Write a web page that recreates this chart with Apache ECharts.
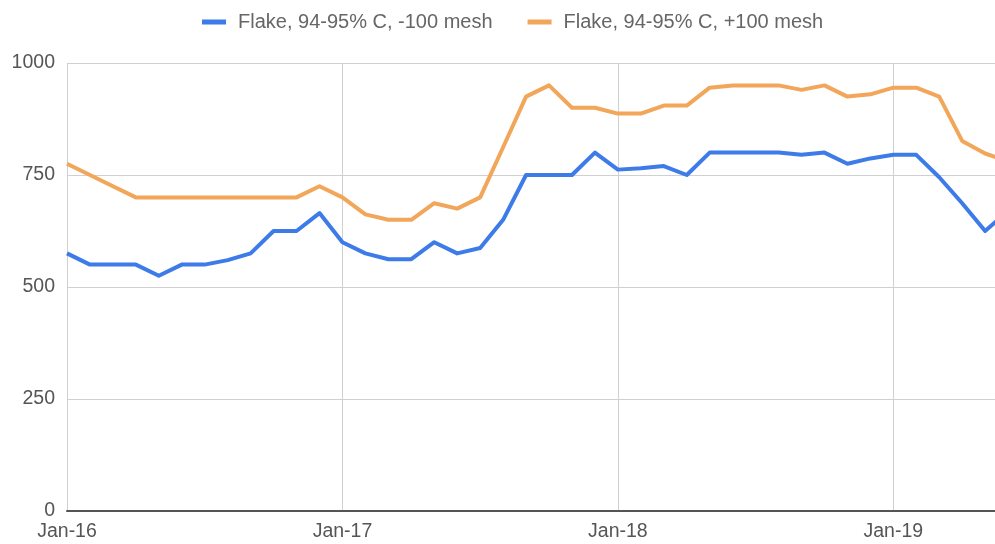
<!DOCTYPE html>
<html>
<head>
<meta charset="utf-8">
<title>Flake graphite prices</title>
<script src="https://cdn.jsdelivr.net/npm/echarts@6/dist/echarts.min.js"></script>
<style>
  html, body { margin: 0; padding: 0; background: #fff; }
  #chart { width: 995px; height: 544px; }
</style>
</head>
<body>
<div id="chart"></div>
<script>
// months from Jan-16, monthly (the last one runs off the right edge)
const months = [
  'Jan-16','Feb-16','Mar-16','Apr-16','May-16','Jun-16','Jul-16','Aug-16','Sep-16','Oct-16','Nov-16','Dec-16',
  'Jan-17','Feb-17','Mar-17','Apr-17','May-17','Jun-17','Jul-17','Aug-17','Sep-17','Oct-17','Nov-17','Dec-17',
  'Jan-18','Feb-18','Mar-18','Apr-18','May-18','Jun-18','Jul-18','Aug-18','Sep-18','Oct-18','Nov-18','Dec-18',
  'Jan-19','Feb-19','Mar-19','Apr-19','May-19','Jun-19'
];
const minus100 = [
  575,550,550,550,525,550,550,560,575,625,625,665,
  600,575,562,562,600,575,587,650,750,750,750,800,
  762,765,770,750,800,800,800,800,795,800,775,787,
  795,795,745,687,625,670
];
const plus100 = [
  775,750,725,700,700,700,700,700,700,700,700,725,
  700,662,650,650,687,675,700,812,925,950,900,900,
  887,887,905,905,945,950,950,950,940,950,925,930,
  945,945,925,826,798,780
];
const yTicks = [0, 250, 500, 750, 1000];
const seriesNames = ['Flake, 94-95% C, -100 mesh', 'Flake, 94-95% C, +100 mesh'];

const font = 'Liberation Sans';
let chart = echarts.init(document.getElementById('chart'));

let option = {
  backgroundColor: '#fff',
  animation: false,
  color: ['#3d7be8', '#f2a65a'],
  legend: {
    top: 7,
    left: 197,
    icon: 'rect',
    itemWidth: 24,
    itemHeight: 5,
    itemGap: 35,
    textStyle: { color: '#666', fontSize: 20, fontFamily: font, padding: [0, 0, 0, 7] },
    data: seriesNames
  },
  grid: { left: 67, right: 0, top: 63, bottom: 33 },
  xAxis: {
    type: 'value',
    min: 0,
    max: 40.43,
    interval: 12,
    axisLine: { show: true, onZero: false, lineStyle: { color: '#555', width: 2 } },
    axisTick: { show: false },
    splitLine: { show: true, showMaxLine: false, lineStyle: { color: '#d0d0d0', width: 1 } },
    axisLabel: {
      color: '#555',
      fontSize: 19.5,
      fontFamily: font,
      margin: 11,
      showMaxLabel: false,
      formatter: function (v) {
        return (v % 12 === 0 && months[v]) ? months[v] : '';
      }
    }
  },
  yAxis: {
    type: 'value',
    min: yTicks[0],
    max: yTicks[yTicks.length - 1],
    interval: 250,
    axisLine: { show: false },
    axisTick: { show: false },
    splitLine: { lineStyle: { color: '#d0d0d0', width: 1 } },
    axisLabel: {
      color: '#555', fontSize: 19.5, fontFamily: font, margin: 12,
      formatter: function (v) { return String(v); }
    }
  },
  series: [
    {
      name: seriesNames[0],
      type: 'line',
      showSymbol: false,
      clip: true,
      lineStyle: { width: 4, join: 'round' },
      data: minus100.map((v, i) => [i, v])
    },
    {
      name: seriesNames[1],
      type: 'line',
      showSymbol: false,
      clip: true,
      lineStyle: { width: 4, join: 'round' },
      data: plus100.map((v, i) => [i, v])
    }
  ]
};
chart.setOption(option);
</script>
</body>
</html>
